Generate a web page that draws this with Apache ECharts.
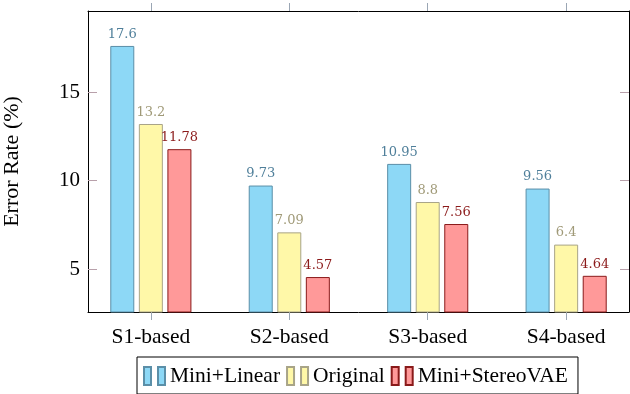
<!DOCTYPE html>
<html>
<head>
<meta charset="utf-8">
<script src="https://cdn.jsdelivr.net/npm/echarts@6/dist/echarts.min.js"></script>
<style>
  html, body { margin: 0; padding: 0; background: #fff; }
  #chart { width: 630px; height: 394px; }
</style>
</head>
<body>
<div id="chart"></div>
<script>
const categories = ['S1-based', 'S2-based', 'S3-based', 'S4-based']
const miniLinear = [17.6, 9.73, 10.95, 9.56]
const original = [13.2, 7.09, 8.8, 6.4]
const miniStereoVAE = [11.78, 4.57, 7.56, 4.64]
const yTicks = [5, 10, 15]

const serif = '"Liberation Serif", "Times New Roman", serif'
const catIdx = categories.map((c, i) => i)

const mkSeries = (name, values, fill, border, labelColor) => ({
  name,
  type: 'bar',
  barWidth: 24,
  barGap: '19%',
  data: values.map((v, i) => [i, v]),
  itemStyle: { color: fill, borderColor: border, borderWidth: 1 },
  label: {
    show: true,
    position: 'top',
    distance: 5,
    color: labelColor,
    fontFamily: '"DejaVu Serif", serif',
    fontSize: 13,
    formatter: p => String(p.value[1])
  },
  emphasis: { disabled: true }
})

const axisLine = { show: true, onZero: false, lineStyle: { color: '#000', width: 1 } }
const xCommon = {
  type: 'value',
  min: -0.454,
  max: 3.454,
  splitLine: { show: false },
  axisLine
}
const yCommon = {
  type: 'value',
  min: 2.6,
  max: 19.57,
  splitLine: { show: false },
  axisLine
}

const chart = echarts.init(document.getElementById('chart'))
chart.setOption({
  animation: false,
  grid: { left: 88, right: 1, top: 11, bottom: 82, containLabel: false, outerBoundsMode: 'none' },
  xAxis: [
    {
      ...xCommon,
      position: 'bottom',
      axisTick: { show: true, inside: false, length: 8, customValues: catIdx, lineStyle: { color: '#9aa6b4' } },
      axisLabel: {
        customValues: catIdx,
        margin: 14,
        color: '#000',
        fontFamily: serif,
        fontSize: 21.5,
        formatter: v => categories[Math.round(v)]
      }
    },
    {
      ...xCommon,
      position: 'top',
      axisTick: { show: true, inside: false, length: 8, customValues: catIdx, lineStyle: { color: '#9aa6b4' } },
      axisLabel: { show: false }
    }
  ],
  yAxis: [
    {
      ...yCommon,
      position: 'left',
      name: 'Error Rate (%)',
      nameLocation: 'middle',
      nameGap: 65,
      nameTextStyle: { color: '#000', fontFamily: serif, fontSize: 22 },
      axisTick: { show: true, inside: true, length: 9, customValues: yTicks, lineStyle: { color: '#b8a0aa' } },
      axisLabel: { customValues: yTicks, margin: 8, color: '#000', fontFamily: serif, fontSize: 21 }
    },
    {
      ...yCommon,
      position: 'right',
      axisTick: { show: true, inside: true, length: 9, customValues: yTicks, lineStyle: { color: '#b8a0aa' } },
      axisLabel: { show: false }
    }
  ],
  legend: {
    left: 137,
    top: 357,
    orient: 'horizontal',
    itemWidth: 21,
    itemHeight: 18,
    itemGap: 6,
    padding: [8, 10, 7, 6],
    borderColor: '#000',
    borderWidth: 1,
    borderRadius: 0,
    icon: 'path://M0,0h7v18h-7z M14,0h7v18h-7z',
    textStyle: { color: '#000', fontFamily: serif, fontSize: 21.5 },
    selectedMode: false
  },
  series: [
    mkSeries('Mini+Linear', miniLinear, '#8dd8f6', '#5b8fa8', '#4f7f9a'),
    mkSeries('Original', original, '#fff8a8', '#a8a488', '#a09a78'),
    mkSeries('Mini+StereoVAE', miniStereoVAE, '#ff9999', '#8a1a1a', '#8b1a1a')
  ]
})
</script>
</body>
</html>
